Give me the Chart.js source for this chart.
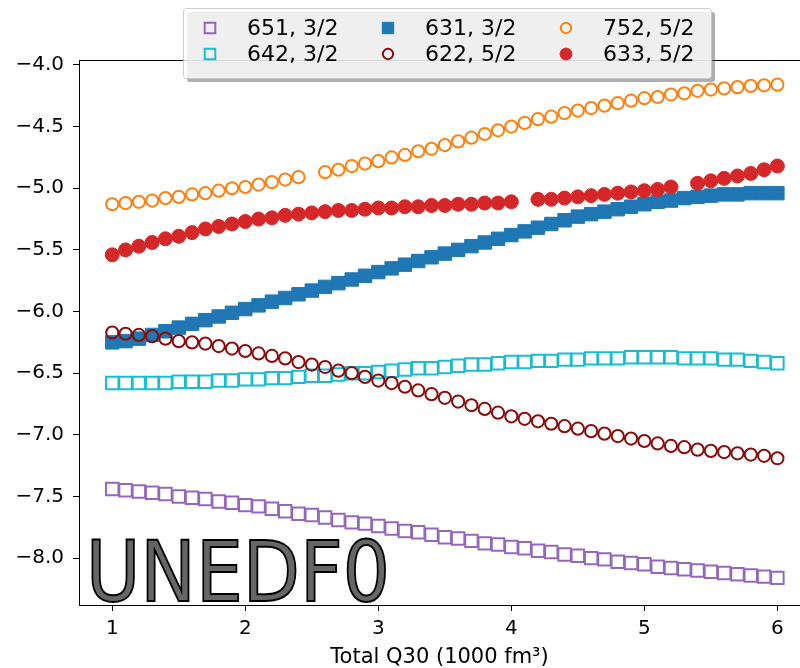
<!DOCTYPE html>
<html>
<head>
<meta charset="utf-8">
<title>UNEDF0 levels vs Q30</title>
<script src="https://cdn.jsdelivr.net/npm/chart.js@4.4.1/dist/chart.umd.min.js"></script>
<style>
  html, body { margin: 0; padding: 0; background: #fff; overflow: hidden; }
  #wrap { width: 800px; height: 668px; position: relative; }
</style>
</head>
<body>
<div id="wrap"><canvas id="levels"></canvas></div>
<script>
// Total Q30 grid (1000 fm^3)
const q30 = [1.0, 1.1, 1.2, 1.3, 1.4, 1.5, 1.6, 1.7, 1.8, 1.9,
             2.0, 2.1, 2.2, 2.3, 2.4, 2.5, 2.6, 2.7, 2.8, 2.9,
             3.0, 3.1, 3.2, 3.3, 3.4, 3.5, 3.6, 3.7, 3.8, 3.9,
             4.0, 4.1, 4.2, 4.3, 4.4, 4.5, 4.6, 4.7, 4.8, 4.9,
             5.0, 5.1, 5.2, 5.3, 5.4, 5.5, 5.6, 5.7, 5.8, 5.9, 6.0];

// level energies, null = no point in the figure
const lvl651 = [-7.44, -7.45, -7.46, -7.47, -7.48, -7.50, -7.51, -7.52, -7.54, -7.55,
                -7.57, -7.58, -7.60, -7.62, -7.64, -7.65, -7.67, -7.69, -7.71, -7.72,
                -7.74, -7.76, -7.78, -7.79, -7.81, -7.83, -7.84, -7.86, -7.88, -7.89,
                -7.91, -7.92, -7.94, -7.95, -7.97, -7.98, -8.00, -8.01, -8.03, -8.04,
                -8.05, -8.07, -8.08, -8.09, -8.10, -8.11, -8.12, -8.13, -8.14, -8.15, -8.16];
const lvl642 = [-6.58, -6.58, -6.58, -6.58, -6.58, -6.57, -6.57, -6.57, -6.56, -6.56,
                -6.55, -6.55, -6.54, -6.54, -6.53, -6.52, -6.52, -6.51, -6.50, -6.50,
                -6.49, -6.48, -6.47, -6.46, -6.46, -6.45, -6.44, -6.43, -6.43, -6.42,
                -6.41, -6.41, -6.40, -6.40, -6.39, -6.39, -6.38, -6.38, -6.38, -6.37,
                -6.37, -6.37, -6.37, -6.38, -6.38, -6.38, -6.39, -6.39, -6.40, -6.41, -6.42];
const lvl631 = [-6.25, -6.24, -6.22, -6.19, -6.16, -6.13, -6.10, -6.07, -6.04, -6.01,
                -5.98, -5.95, -5.92, -5.89, -5.86, -5.83, -5.80, -5.77, -5.74, -5.71,
                -5.68, -5.65, -5.62, -5.59, -5.56, -5.53, -5.50, -5.47, -5.44, -5.41,
                -5.38, -5.35, -5.32, -5.29, -5.26, -5.23, -5.21, -5.19, -5.17, -5.15,
                -5.13, -5.11, -5.10, -5.08, -5.07, -5.06, -5.05, -5.05, -5.04, -5.04, -5.04];
const lvl622 = [-6.17, -6.18, -6.19, -6.20, -6.22, -6.24, -6.25, -6.26, -6.28, -6.30,
                -6.32, -6.34, -6.36, -6.38, -6.41, -6.43, -6.45, -6.48, -6.50, -6.53,
                -6.56, -6.58, -6.61, -6.64, -6.67, -6.70, -6.73, -6.76, -6.79, -6.82,
                -6.85, -6.87, -6.89, -6.91, -6.93, -6.95, -6.97, -6.99, -7.01, -7.03,
                -7.05, -7.07, -7.09, -7.10, -7.12, -7.13, -7.14, -7.15, -7.16, -7.17, -7.19];
const lvl752 = [-5.13, -5.12, -5.11, -5.10, -5.08, -5.07, -5.05, -5.04, -5.02, -5.00,
                -4.99, -4.97, -4.95, -4.93, -4.91, null, -4.87, -4.85, -4.82, -4.80,
                -4.78, -4.75, -4.73, -4.70, -4.68, -4.65, -4.62, -4.59, -4.56, -4.53,
                -4.50, -4.47, -4.44, -4.42, -4.39, -4.37, -4.35, -4.33, -4.31, -4.29,
                -4.27, -4.26, -4.24, -4.23, -4.21, -4.20, -4.19, -4.18, -4.17, -4.165, -4.16];
const lvl633 = [-5.54, -5.50, -5.47, -5.44, -5.41, -5.39, -5.36, -5.33, -5.31, -5.29,
                -5.27, -5.25, -5.24, -5.22, -5.21, -5.20, -5.19, -5.18, -5.18, -5.17,
                -5.16, -5.16, -5.15, -5.15, -5.14, -5.14, -5.13, -5.13, -5.12, -5.12,
                -5.11, null, -5.09, -5.09, -5.08, -5.07, -5.06, -5.05, -5.04, -5.03,
                -5.02, -5.01, -4.99, null, -4.96, -4.94, -4.92, -4.90, -4.88, -4.85, -4.82];

const seriesLabels = ['651, 3/2', '642, 3/2', '631, 3/2', '622, 5/2', '752, 5/2', '633, 5/2'];
const seriesValues = [lvl651, lvl642, lvl631, lvl622, lvl752, lvl633];

const xTicks = [1, 2, 3, 4, 5, 6];
const yTicks = [-8.0, -7.5, -7.0, -6.5, -6.0, -5.5, -5.0, -4.5, -4.0];

// marker look per series (same order as seriesLabels)
const markers = [
  { shape: 'rect',   color: '#9467bd', filled: false, r: 8.8, bw: 2 },
  { shape: 'rect',   color: '#17becf', filled: false, r: 8.8, bw: 2 },
  { shape: 'rect',   color: '#1f77b4', filled: true,  r: 9.5, bw: 1 },
  { shape: 'circle', color: '#8b0a0a', filled: false, r: 6.1, bw: 2 },
  { shape: 'circle', color: '#ff7f0e', filled: false, r: 6.1, bw: 2 },
  { shape: 'circle', color: '#d62728', filled: true,  r: 7.0, bw: 1 }
];

const FONT = '"DejaVu Sans", sans-serif';
Chart.defaults.font.family = FONT;
Chart.defaults.font.size = 20;
Chart.defaults.color = '#000';

const fmtMinus = v => (v < 0 ? '\u2212' : '') + Math.abs(v).toFixed(1);

const datasets = seriesLabels.map((label, i) => {
  const m = markers[i];
  const pts = [];
  q30.forEach((x, k) => {
    if (seriesValues[i][k] !== null) pts.push({ x: x, y: seriesValues[i][k] });
  });
  return {
    label: label,
    data: pts,
    showLine: false,
    pointStyle: m.shape,
    pointRadius: m.r,
    pointBorderWidth: m.bw,
    pointBorderColor: m.color,
    pointBackgroundColor: m.filled ? m.color : 'rgba(0,0,0,0)',
    // later series sit on top, like the original plotting order
    order: seriesLabels.length - 1 - i
  };
});

function drawMarker(ctx, m, x, y, scale) {
  ctx.save();
  ctx.lineWidth = m.bw;
  ctx.strokeStyle = m.color;
  ctx.fillStyle = m.color;
  ctx.beginPath();
  if (m.shape === 'rect') {
    const h = m.r * Math.SQRT1_2 * scale;
    ctx.rect(x - h, y - h, 2 * h, 2 * h);
  } else {
    ctx.arc(x, y, m.r * scale, 0, Math.PI * 2);
  }
  if (m.filled) ctx.fill();
  ctx.stroke();
  ctx.restore();
}

// top spine and the UNEDF0 tag
const framePlugin = {
  id: 'frame',
  beforeDatasetsDraw(chart) {
    const { ctx, chartArea } = chart;
    ctx.save();
    ctx.strokeStyle = '#000';
    ctx.lineWidth = 1;
    ctx.beginPath();
    ctx.moveTo(chartArea.left, chartArea.top + 0.5);
    ctx.lineTo(chartArea.right, chartArea.top + 0.5);
    ctx.stroke();
    ctx.restore();
  },
  afterDatasetsDraw(chart) {
    const ctx = chart.ctx;
    ctx.save();
    ctx.font = '84px ' + FONT;
    ctx.textBaseline = 'alphabetic';
    const w = ctx.measureText('UNEDF0').width;
    ctx.translate(86, 601);
    ctx.scale(304 / w, 1);
    ctx.fillStyle = '#666666';
    ctx.strokeStyle = '#000';
    ctx.lineWidth = 2;
    ctx.fillText('UNEDF0', 0, 0);
    ctx.strokeText('UNEDF0', 0, 0);
    ctx.restore();
  }
};

// matplotlib-style legend: 3 columns, shadow, half transparent frame
const legendPlugin = {
  id: 'boxLegend',
  afterDraw(chart) {
    const ctx = chart.ctx;
    const bx = 183, by = 8, bw = 528, bh = 70;
    const colMarker = [210, 388, 566];
    const colText = [247, 425, 603];
    const rowY = [28, 54];
    ctx.save();
    ctx.fillStyle = 'rgba(110,110,110,0.55)';
    ctx.beginPath();
    ctx.roundRect(bx + 4, by + 4, bw, bh, 3);
    ctx.fill();
    ctx.fillStyle = 'rgba(255,255,255,0.8)';
    ctx.strokeStyle = 'rgba(200,200,200,0.9)';
    ctx.lineWidth = 1;
    ctx.beginPath();
    ctx.roundRect(bx + 0.5, by + 0.5, bw, bh, 3);
    ctx.fill();
    ctx.stroke();
    ctx.font = '22px ' + FONT;
    ctx.textBaseline = 'middle';
    ctx.textAlign = 'left';
    seriesLabels.forEach((label, i) => {
      const col = Math.floor(i / 2), row = i % 2;
      drawMarker(ctx, markers[i], colMarker[col], rowY[row], 0.85);
      ctx.fillStyle = '#000';
      ctx.fillText(label, colText[col], rowY[row] + 1);
    });
    ctx.restore();
  }
};

new Chart(document.getElementById('levels'), {
  type: 'scatter',
  data: { datasets: datasets },
  options: {
    responsive: true,
    maintainAspectRatio: false,
    animation: false,
    events: [],
    layout: { autoPadding: false, padding: { top: 60, left: 0, right: 0, bottom: 0 } },
    plugins: {
      legend: { display: false },
      tooltip: { enabled: false }
    },
    scales: {
      x: {
        type: 'linear',
        min: 0.75,
        max: 6.17,
        afterBuildTicks: s => { s.ticks = xTicks.map(v => ({ value: v })); },
        afterFit: s => { s.height = 63; },
        ticks: { padding: 6, maxRotation: 0, callback: v => String(v) },
        grid: { drawOnChartArea: false, drawTicks: true, tickLength: 6, color: '#000' },
        border: { display: true, color: '#000', width: 1 },
        title: {
          display: true,
          text: 'Total Q30 (1000 fm\u00b3)',
          font: { size: 21 },
          padding: { top: 0, bottom: -2 }
        }
      },
      y: {
        type: 'linear',
        min: -8.38,
        max: -3.96,
        afterBuildTicks: s => { s.ticks = yTicks.map(v => ({ value: v })); },
        afterFit: s => { s.width = 79; },
        ticks: { padding: 9, callback: v => fmtMinus(v) },
        grid: { drawOnChartArea: false, drawTicks: true, tickLength: 6, color: '#000' },
        border: { display: true, color: '#000', width: 1 }
      }
    }
  },
  plugins: [framePlugin, legendPlugin]
});
</script>
</body>
</html>
